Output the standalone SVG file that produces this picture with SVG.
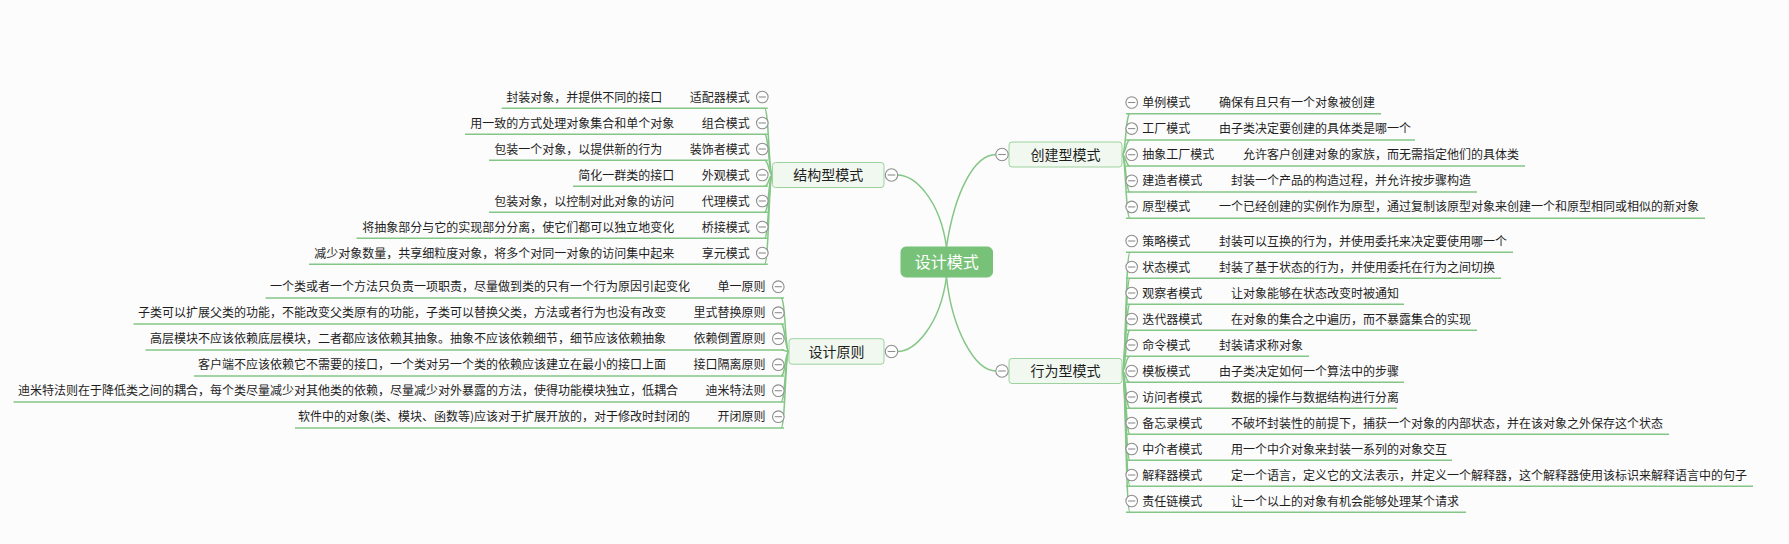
<svg xmlns="http://www.w3.org/2000/svg" xmlns:xlink="http://www.w3.org/1999/xlink" width="1789" height="544" viewBox="0 0 1789 544">
<style>
.bg{fill:#fcfcfc}
.ln{fill:none;stroke:#84c686;stroke-width:1.5}
.ul{fill:none;stroke:#84c686;stroke-width:1.5}
.t{font-family:"Noto Sans CJK SC","Noto Sans",sans-serif;font-size:12px;fill:#1e1e1e}
.tl{text-anchor:end}
.nt{font-family:"Noto Sans CJK SC","Noto Sans",sans-serif;font-size:14px;fill:#1e1e1e;text-anchor:middle}
.pn{fill:#f1f8f0;stroke:#9cd29d;stroke-width:1}
.root{fill:#77c278;stroke:#77c278}
.rt{font-family:"Noto Sans CJK SC","Noto Sans",sans-serif;font-size:16px;fill:#ffffff;text-anchor:middle}
</style>
<defs>
<g id="tog"><circle r="5.8" fill="#ffffff" stroke="#8e8e8e" stroke-width="1.1"/><line x1="-3.6" y1="0" x2="3.6" y2="0" stroke="#8e8e8e" stroke-width="1.1"/></g>
<g id="togp"><circle r="6.2" fill="#ffffff" stroke="#8e8e8e" stroke-width="1.1"/><line x1="-3.8" y1="0" x2="3.8" y2="0" stroke="#8e8e8e" stroke-width="1.1"/></g>
</defs>
<rect class="bg" x="0" y="0" width="1789" height="544"/>

<g id="connectors">
<path class="ln" d="M946.5,247 C940,200 915,175 897.5,175"/>
<path class="ln" d="M946.5,247 C955,190 975,154.5 996,154.5"/>
<path class="ln" d="M946.5,277 C940,325 915,351.5 897.5,351.5"/>
<path class="ln" d="M946.5,277 C952,330 975,371 996,371"/>
<path class="ln" d="M1122,154.5 C1126,154.5 1125.5,113.8 1130,113.8"/>
<path class="ln" d="M1122,154.5 C1126,154.5 1125.5,139.9 1130,139.9"/>
<path class="ln" d="M1122,154.5 C1126,154.5 1125.5,166 1130,166"/>
<path class="ln" d="M1122,154.5 C1126,154.5 1125.5,192.1 1130,192.1"/>
<path class="ln" d="M1122,154.5 C1126,154.5 1125.5,218.2 1130,218.2"/>
<path class="ln" d="M1122,371 C1126,371 1125.5,252.3 1130,252.3"/>
<path class="ln" d="M1122,371 C1126,371 1125.5,278.3 1130,278.3"/>
<path class="ln" d="M1122,371 C1126,371 1125.5,304.3 1130,304.3"/>
<path class="ln" d="M1122,371 C1126,371 1125.5,330.3 1130,330.3"/>
<path class="ln" d="M1122,371 C1126,371 1125.5,356.3 1130,356.3"/>
<path class="ln" d="M1122,371 C1126,371 1125.5,382.3 1130,382.3"/>
<path class="ln" d="M1122,371 C1126,371 1125.5,408.3 1130,408.3"/>
<path class="ln" d="M1122,371 C1126,371 1125.5,434.3 1130,434.3"/>
<path class="ln" d="M1122,371 C1126,371 1125.5,460.3 1130,460.3"/>
<path class="ln" d="M1122,371 C1126,371 1125.5,486.3 1130,486.3"/>
<path class="ln" d="M1122,371 C1126,371 1125.5,512.3 1130,512.3"/>
<path class="ln" d="M772.5,175 C768.5,175 769,108.3 764.5,108.3"/>
<path class="ln" d="M772.5,175 C768.5,175 769,134.3 764.5,134.3"/>
<path class="ln" d="M772.5,175 C768.5,175 769,160.3 764.5,160.3"/>
<path class="ln" d="M772.5,175 C768.5,175 769,186.3 764.5,186.3"/>
<path class="ln" d="M772.5,175 C768.5,175 769,212.3 764.5,212.3"/>
<path class="ln" d="M772.5,175 C768.5,175 769,238.3 764.5,238.3"/>
<path class="ln" d="M772.5,175 C768.5,175 769,264.3 764.5,264.3"/>
<path class="ln" d="M789,351.5 C785,351.5 785.5,298 781,298"/>
<path class="ln" d="M789,351.5 C785,351.5 785.5,324 781,324"/>
<path class="ln" d="M789,351.5 C785,351.5 785.5,350 781,350"/>
<path class="ln" d="M789,351.5 C785,351.5 785.5,376 781,376"/>
<path class="ln" d="M789,351.5 C785,351.5 785.5,402 781,402"/>
<path class="ln" d="M789,351.5 C785,351.5 785.5,428 781,428"/>
</g>

<g id="root">
<rect class="root" x="901" y="247" width="91.5" height="30" rx="5"/>
<text class="rt" x="946.7" y="267.8">设计模式</text>
</g>

<g id="creational">
<rect class="pn" x="1009" y="142" width="113" height="25" rx="3"/>
<text class="nt" x="1065.5" y="159.8">创建型模式</text>
<use xlink:href="#togp" x="1002" y="154.5"/>
</g>
<g id="behavioral">
<rect class="pn" x="1009" y="358.5" width="113" height="25" rx="3"/>
<text class="nt" x="1065.5" y="376.3">行为型模式</text>
<use xlink:href="#togp" x="1002" y="371"/>
</g>
<g id="structural">
<rect class="pn" x="772.5" y="162.5" width="111.5" height="25" rx="3"/>
<text class="nt" x="828.3" y="180.3">结构型模式</text>
<use xlink:href="#togp" x="891.5" y="175"/>
</g>
<g id="principles">
<rect class="pn" x="789" y="338.7" width="95" height="25.5" rx="3"/>
<text class="nt" x="836.5" y="356.8">设计原则</text>
<use xlink:href="#togp" x="891.5" y="351.5"/>
</g>

<g id="singleton"><use xlink:href="#tog" x="1131.7" y="102.5"/><text class="t" y="107"><tspan x="1142.2">单例模式</tspan><tspan x="1218.9">确保有且只有一个对象被创建</tspan></text><line class="ul" x1="1126" y1="113.8" x2="1381" y2="113.8"/></g>
<g id="factory"><use xlink:href="#tog" x="1131.7" y="128.6"/><text class="t" y="133.1"><tspan x="1142.2">工厂模式</tspan><tspan x="1218.9">由子类决定要创建的具体类是哪一个</tspan></text><line class="ul" x1="1126" y1="139.9" x2="1415" y2="139.9"/></g>
<g id="abstract-factory"><use xlink:href="#tog" x="1131.7" y="154.7"/><text class="t" y="159.2"><tspan x="1142.2">抽象工厂模式</tspan><tspan x="1242.9">允许客户创建对象的家族，而无需指定他们的具体类</tspan></text><line class="ul" x1="1126" y1="166" x2="1525" y2="166"/></g>
<g id="builder"><use xlink:href="#tog" x="1131.7" y="180.8"/><text class="t" y="185.3"><tspan x="1142.2">建造者模式</tspan><tspan x="1230.9">封装一个产品的构造过程，并允许按步骤构造</tspan></text><line class="ul" x1="1126" y1="192.1" x2="1477" y2="192.1"/></g>
<g id="prototype"><use xlink:href="#tog" x="1131.7" y="206.9"/><text class="t" y="211.4"><tspan x="1142.2">原型模式</tspan><tspan x="1218.9">一个已经创建的实例作为原型，通过复制该原型对象来创建一个和原型相同或相似的新对象</tspan></text><line class="ul" x1="1126" y1="218.2" x2="1705" y2="218.2"/></g>

<g id="strategy"><use xlink:href="#tog" x="1131.7" y="241"/><text class="t" y="245.5"><tspan x="1142.2">策略模式</tspan><tspan x="1218.9">封装可以互换的行为，并使用委托来决定要使用哪一个</tspan></text><line class="ul" x1="1126" y1="252.3" x2="1513" y2="252.3"/></g>
<g id="state"><use xlink:href="#tog" x="1131.7" y="267"/><text class="t" y="271.5"><tspan x="1142.2">状态模式</tspan><tspan x="1218.9">封装了基于状态的行为，并使用委托在行为之间切换</tspan></text><line class="ul" x1="1126" y1="278.3" x2="1501" y2="278.3"/></g>
<g id="observer"><use xlink:href="#tog" x="1131.7" y="293"/><text class="t" y="297.5"><tspan x="1142.2">观察者模式</tspan><tspan x="1230.9">让对象能够在状态改变时被通知</tspan></text><line class="ul" x1="1126" y1="304.3" x2="1404" y2="304.3"/></g>
<g id="iterator"><use xlink:href="#tog" x="1131.7" y="319"/><text class="t" y="323.5"><tspan x="1142.2">迭代器模式</tspan><tspan x="1230.9">在对象的集合之中遍历，而不暴露集合的实现</tspan></text><line class="ul" x1="1126" y1="330.3" x2="1477" y2="330.3"/></g>
<g id="command"><use xlink:href="#tog" x="1131.7" y="345"/><text class="t" y="349.5"><tspan x="1142.2">命令模式</tspan><tspan x="1218.9">封装请求称对象</tspan></text><line class="ul" x1="1126" y1="356.3" x2="1309" y2="356.3"/></g>
<g id="template"><use xlink:href="#tog" x="1131.7" y="371"/><text class="t" y="375.5"><tspan x="1142.2">模板模式</tspan><tspan x="1218.9">由子类决定如何一个算法中的步骤</tspan></text><line class="ul" x1="1126" y1="382.3" x2="1404" y2="382.3"/></g>
<g id="visitor"><use xlink:href="#tog" x="1131.7" y="397"/><text class="t" y="401.5"><tspan x="1142.2">访问者模式</tspan><tspan x="1230.9">数据的操作与数据结构进行分离</tspan></text><line class="ul" x1="1126" y1="408.3" x2="1397" y2="408.3"/></g>
<g id="memento"><use xlink:href="#tog" x="1131.7" y="423"/><text class="t" y="427.5"><tspan x="1142.2">备忘录模式</tspan><tspan x="1230.9">不破坏封装性的前提下，捕获一个对象的内部状态，并在该对象之外保存这个状态</tspan></text><line class="ul" x1="1126" y1="434.3" x2="1669" y2="434.3"/></g>
<g id="mediator"><use xlink:href="#tog" x="1131.7" y="449"/><text class="t" y="453.5"><tspan x="1142.2">中介者模式</tspan><tspan x="1230.9">用一个中介对象来封装一系列的对象交互</tspan></text><line class="ul" x1="1126" y1="460.3" x2="1452" y2="460.3"/></g>
<g id="interpreter"><use xlink:href="#tog" x="1131.7" y="475"/><text class="t" y="479.5"><tspan x="1142.2">解释器模式</tspan><tspan x="1230.9">定一个语言，定义它的文法表示，并定义一个解释器，这个解释器使用该标识来解释语言中的句子</tspan></text><line class="ul" x1="1126" y1="486.3" x2="1753" y2="486.3"/></g>
<g id="chain"><use xlink:href="#tog" x="1131.7" y="501"/><text class="t" y="505.5"><tspan x="1142.2">责任链模式</tspan><tspan x="1230.9">让一个以上的对象有机会能够处理某个请求</tspan></text><line class="ul" x1="1126" y1="512.3" x2="1466" y2="512.3"/></g>

<g id="adapter"><use xlink:href="#tog" x="762.3" y="97"/><text class="t tl" y="101.5"><tspan x="662.3">封装对象，并提供不同的接口</tspan><tspan x="749.8">适配器模式</tspan></text><line class="ul" x1="501.7" y1="108.3" x2="767.8" y2="108.3"/></g>
<g id="composite"><use xlink:href="#tog" x="762.3" y="123"/><text class="t tl" y="127.5"><tspan x="674.3">用一致的方式处理对象集合和单个对象</tspan><tspan x="749.8">组合模式</tspan></text><line class="ul" x1="465" y1="134.3" x2="767.8" y2="134.3"/></g>
<g id="decorator"><use xlink:href="#tog" x="762.3" y="149"/><text class="t tl" y="153.5"><tspan x="662.3">包装一个对象，以提供新的行为</tspan><tspan x="749.8">装饰者模式</tspan></text><line class="ul" x1="489" y1="160.3" x2="767.8" y2="160.3"/></g>
<g id="facade"><use xlink:href="#tog" x="762.3" y="175"/><text class="t tl" y="179.5"><tspan x="674.3">简化一群类的接口</tspan><tspan x="749.8">外观模式</tspan></text><line class="ul" x1="573" y1="186.3" x2="767.8" y2="186.3"/></g>
<g id="proxy"><use xlink:href="#tog" x="762.3" y="201"/><text class="t tl" y="205.5"><tspan x="674.3">包装对象，以控制对此对象的访问</tspan><tspan x="749.8">代理模式</tspan></text><line class="ul" x1="489" y1="212.3" x2="767.8" y2="212.3"/></g>
<g id="bridge"><use xlink:href="#tog" x="762.3" y="227"/><text class="t tl" y="231.5"><tspan x="674.3">将抽象部分与它的实现部分分离，使它们都可以独立地变化</tspan><tspan x="749.8">桥接模式</tspan></text><line class="ul" x1="356.5" y1="238.3" x2="767.8" y2="238.3"/></g>
<g id="flyweight"><use xlink:href="#tog" x="762.3" y="253"/><text class="t tl" y="257.5"><tspan x="674.3">减少对象数量，共享细粒度对象，将多个对同一对象的访问集中起来</tspan><tspan x="749.8">享元模式</tspan></text><line class="ul" x1="309" y1="264.3" x2="767.8" y2="264.3"/></g>

<g id="srp"><use xlink:href="#tog" x="778.3" y="286.7"/><text class="t tl" y="291.2"><tspan x="690">一个类或者一个方法只负责一项职责，尽量做到类的只有一个行为原因引起变化</tspan><tspan x="765.5">单一原则</tspan></text><line class="ul" x1="265.5" y1="298" x2="784" y2="298"/></g>
<g id="lsp"><use xlink:href="#tog" x="778.3" y="312.7"/><text class="t tl" y="317.2"><tspan x="666">子类可以扩展父类的功能，不能改变父类原有的功能，子类可以替换父类，方法或者行为也没有改变</tspan><tspan x="765.5">里式替换原则</tspan></text><line class="ul" x1="133.5" y1="324" x2="784" y2="324"/></g>
<g id="dip"><use xlink:href="#tog" x="778.3" y="338.7"/><text class="t tl" y="343.2"><tspan x="666">高层模块不应该依赖底层模块，二者都应该依赖其抽象。抽象不应该依赖细节，细节应该依赖抽象</tspan><tspan x="765.5">依赖倒置原则</tspan></text><line class="ul" x1="145.5" y1="350" x2="784" y2="350"/></g>
<g id="isp"><use xlink:href="#tog" x="778.3" y="364.7"/><text class="t tl" y="369.2"><tspan x="666">客户端不应该依赖它不需要的接口，一个类对另一个类的依赖应该建立在最小的接口上面</tspan><tspan x="765.5">接口隔离原则</tspan></text><line class="ul" x1="194" y1="376" x2="784" y2="376"/></g>
<g id="lod"><use xlink:href="#tog" x="778.3" y="390.7"/><text class="t tl" y="395.2"><tspan x="678">迪米特法则在于降低类之间的耦合，每个类尽量减少对其他类的依赖，尽量减少对外暴露的方法，使得功能模块独立，低耦合</tspan><tspan x="765.5">迪米特法则</tspan></text><line class="ul" x1="13.5" y1="402" x2="784" y2="402"/></g>
<g id="ocp"><use xlink:href="#tog" x="778.3" y="416.7"/><text class="t tl" y="421.2"><tspan x="690">软件中的对象(类、模块、函数等)应该对于扩展开放的，对于修改时封闭的</tspan><tspan x="765.5">开闭原则</tspan></text><line class="ul" x1="295" y1="428" x2="784" y2="428"/></g>
</svg>
